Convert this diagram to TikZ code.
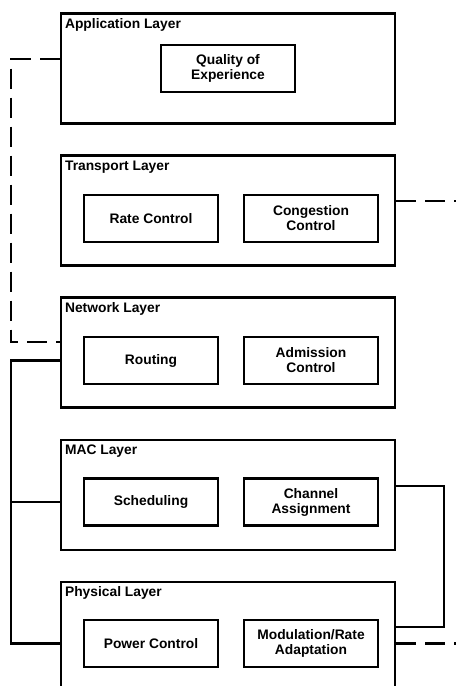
\documentclass[tikz,border=0pt]{standalone}
\usepackage{fontspec}
\setmainfont{Liberation Sans}
\usetikzlibrary{calc}
\begin{document}
\begin{tikzpicture}[x=1pt,y=-1pt,
  layerbox/.style={draw, line width=2.2pt, minimum width=334pt, minimum height=110pt, inner sep=0pt},
  funcbox/.style={draw, line width=2.2pt, minimum width=134pt, minimum height=47pt, inner sep=0pt,
    align=center, font=\fontsize{13.8}{15}\selectfont\bfseries},
  layertitle/.style={anchor=base west, inner sep=0pt, font=\fontsize{13.8}{15}\selectfont\bfseries},
  link/.style={line width=2.1pt},
  dlink/.style={line width=2.1pt, dash pattern=on 20pt off 9pt}]
\useasboundingbox (0,0) rectangle (456,686);
\clip (0,0) rectangle (456,686);

% layer frames (the physical layer runs past the lower edge)
\node[layerbox] (app)   at (228,68.5)  {};
\node[layerbox] (trans) at (228,210.5) {};
\node[layerbox] (net)   at (228,352.5) {};
\node[layerbox] (mac)   at (228,495)   {};
\node[layerbox] (phy)   at (228,637)   {};

% layer titles
\node[layertitle] (appt)   at ($(app.north west)+(5,16)$)   {Application Layer};
\node[layertitle] (transt) at ($(trans.north west)+(5,16)$) {Transport Layer};
\node[layertitle] (nett)   at ($(net.north west)+(5,16)$)   {Network Layer};
\node[layertitle] (mact)   at ($(mac.north west)+(5,16)$)   {MAC Layer};
\node[layertitle] (phyt)   at ($(phy.north west)+(5,16)$)   {Physical Layer};

% functions inside each layer
\node[funcbox] (qoe)   at (228,68.5)  {Quality of\\Experience};
\node[funcbox] (rate)  at (151,218.5) {Rate Control};
\node[funcbox] (cong)  at (311,218.5) {Congestion\\Control};
\node[funcbox] (route) at (151,360.5) {Routing};
\node[funcbox] (adm)   at (311,360.5) {Admission\\Control};
\node[funcbox] (sched) at (151,502)   {Scheduling};
\node[funcbox] (chan)  at (311,502)   {Channel\\Assignment};
\node[funcbox] (power) at (151,643.5) {Power Control};
\node[funcbox] (mod)   at (311,643.5) {Modulation/Rate\\Adaptation};

% attachment points on the frames
\coordinate (appL)   at ($(app.north west)+(0,47)$);
\coordinate (netLd)  at ($(net.north west)+(0,46)$);
\coordinate (netL)   at (net.west |- route);
\coordinate (macL)   at (mac.west |- sched);
\coordinate (phyL)   at (phy.west |- power);
\coordinate (transR) at ($(trans.north east)+(0,47)$);
\coordinate (macR)   at ($(mac.north east)+(0,47)$);
\coordinate (phyR)   at ($(phy.north east)+(0,46)$);
\coordinate (phyRd)  at (phy.east |- mod);
\coordinate (leftbus)  at (11,0);
\coordinate (rightbus) at (444,0);
\coordinate (outR)     at (456,0);

% cross-layer couplings
\draw[dlink] (appL) -- (appL -| leftbus) -- (netLd -| leftbus) -- (netLd);
\draw[link] (netL) -- (netL -| leftbus) -- (phyL -| leftbus) -- (phyL);
\draw[link] (macL -| leftbus) -- (macL);
\draw[link] (macR) -- (macR -| rightbus) -- (phyR -| rightbus) -- (phyR);
\draw[dlink] (transR) -- (transR -| outR);
\draw[dlink] (phyRd) -- (phyRd -| outR);
\end{tikzpicture}
\end{document}
